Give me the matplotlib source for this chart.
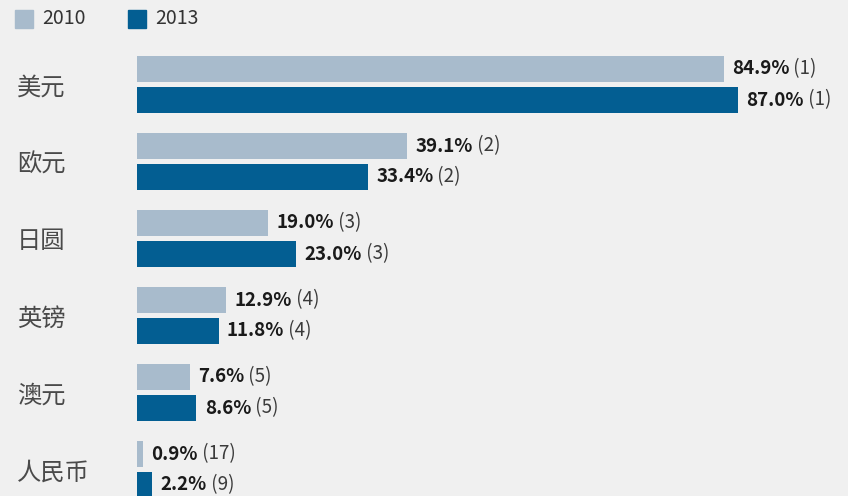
import numpy as np
import matplotlib.pyplot as plt
from matplotlib.patches import Rectangle

plt.rcParams['font.family'] = ['Noto Sans CJK SC', 'DejaVu Sans']

currencies = ['美元', '欧元', '日圆', '英镑', '澳元', '人民币']
share_2010 = [84.9, 39.1, 19.0, 12.9, 7.6, 0.9]
share_2013 = [87.0, 33.4, 23.0, 11.8, 8.6, 2.2]
rank_2010 = [1, 2, 3, 4, 5, 17]
rank_2013 = [1, 2, 3, 4, 5, 9]
years = ['2010', '2013']

c2010 = '#a8bbcc'
c2013 = '#035e92'
bg = '#f0f0f0'
W, H = 848, 496

fig = plt.figure(figsize=(W / 100, H / 100), dpi=100, facecolor=bg)
ax = fig.add_axes([137 / W, 0, 711 / W, 1])
ax.set_facecolor(bg)

# group centers in units of one group spacing (77 px)
y = np.arange(len(currencies)) + 84.5 / 77
h = 26 / 77
off = 15.5 / 77

ax.barh(y - off, share_2010, height=h, color=c2010)
ax.barh(y + off, share_2013, height=h, color=c2013)

ax.set_xlim(0, 711 / 6.91)
ax.set_ylim(H / 77, 0)
ax.axis('off')

for yy, vals, ranks in [(y - off, share_2010, rank_2010), (y + off, share_2013, rank_2013)]:
    for yi, v, r in zip(yy, vals, ranks):
        t = ax.annotate(f'{v:.1f}%', xy=(v, yi), xytext=(6, 0), textcoords='offset points',
                        va='center', ha='left', fontsize=13.5, fontweight='bold', color='#1a1a1a')
        ax.annotate(f' ({r})', xy=(1, 0.5), xycoords=t, va='center', ha='left',
                    fontsize=13.5, color='#3a3a3a')

for yi, name in zip(y, currencies):
    fig.text(17 / W, 1 - (yi * 77 + 3) / H, name, ha='left', va='center',
             fontsize=17.5, color='#4a4a4a')

# legend
for x0, col, lab in [(15, c2010, years[0]), (128, c2013, years[1])]:
    fig.patches.append(Rectangle((x0 / W, 1 - 28 / H), 18 / W, 18 / H, color=col,
                                 transform=fig.transFigure))
    fig.text((x0 + 27) / W, 1 - 19 / H, lab, ha='left', va='center',
             fontsize=14, color='#333333')

fig.savefig('out.png', dpi=100, facecolor=bg)
